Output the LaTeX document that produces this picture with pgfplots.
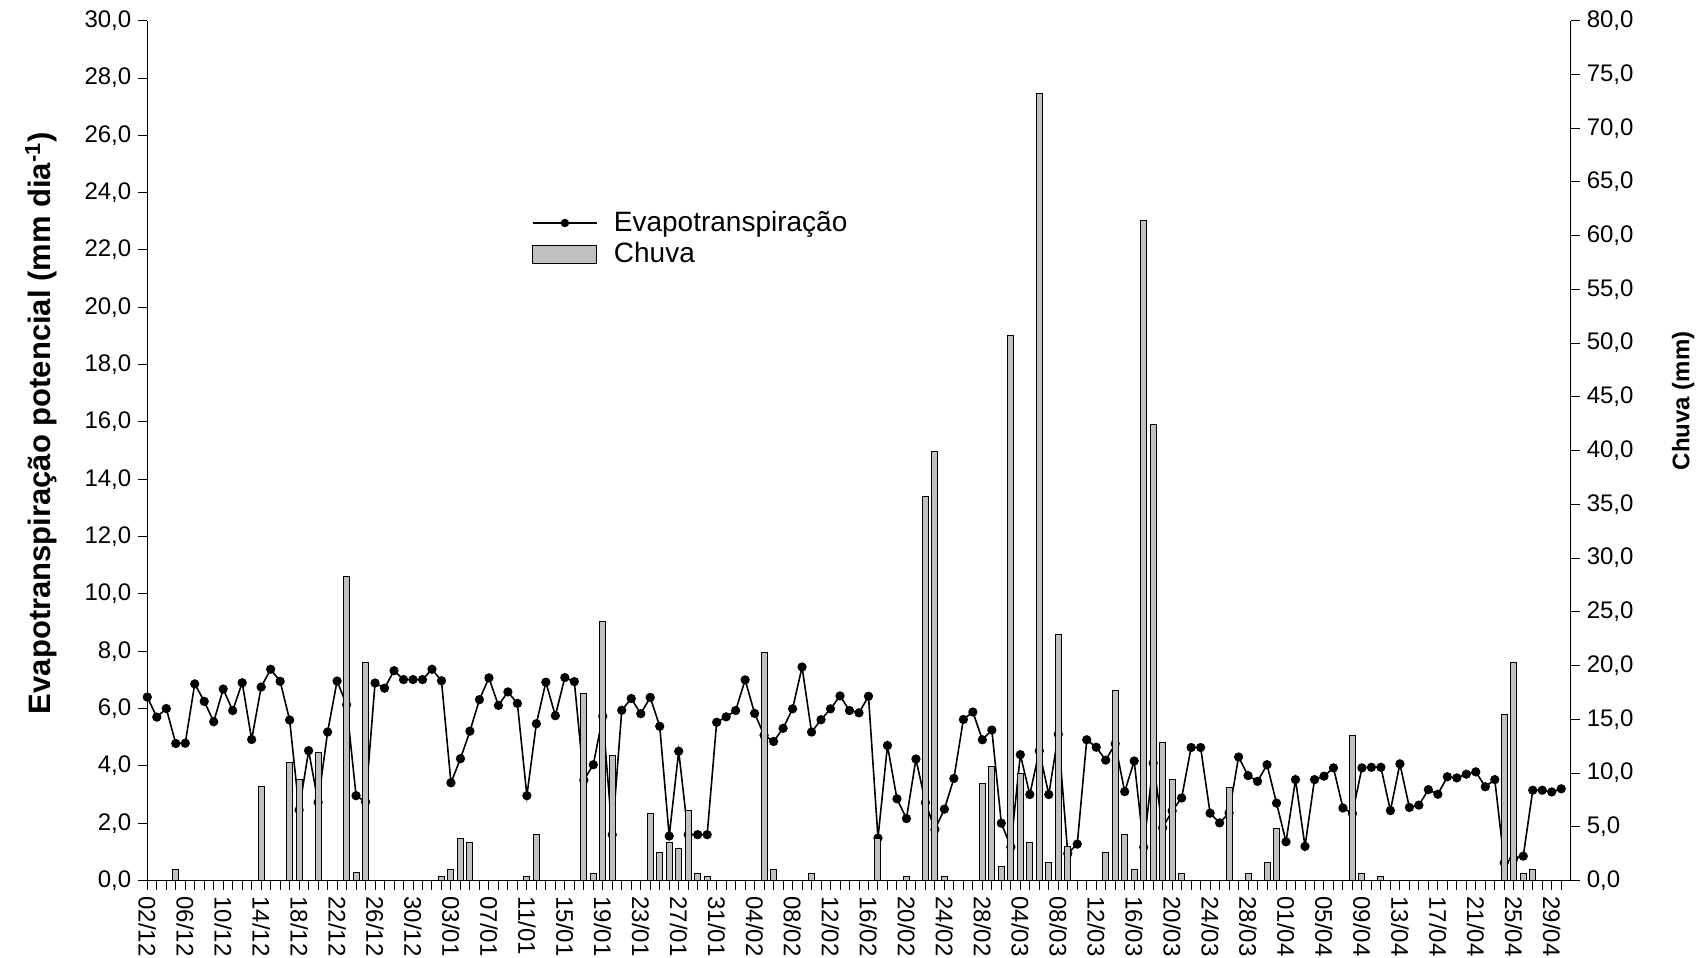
\documentclass[border=0pt]{standalone}
\usepackage{fontspec}
\setmainfont{Liberation Sans}
\usepackage{pgfplots}
\usepackage{pgfplotstable}
\pgfplotsset{compat=1.18}
\definecolor{chuvafill}{RGB}{192,192,192}

% evapotranspiração diária (mm/dia), dia 0 = 02/12
\pgfplotstableread{
d et
0 6.40
1 5.70
2 6.00
3 4.78
4 4.79
5 6.86
6 6.25
7 5.54
8 6.68
9 5.93
10 6.90
11 4.92
12 6.75
13 7.37
14 6.95
15 5.60
16 2.46
17 4.53
18 2.73
19 5.18
20 6.96
21 6.13
22 2.96
23 2.74
24 6.89
25 6.71
26 7.32
27 7.01
28 7.01
29 7.01
30 7.37
31 6.97
32 3.41
33 4.25
34 5.21
35 6.31
36 7.07
37 6.11
38 6.58
39 6.18
40 2.96
41 5.47
42 6.92
43 5.75
44 7.08
45 6.94
46 3.50
47 4.04
48 5.73
49 1.60
50 5.94
51 6.35
52 5.82
53 6.39
54 5.38
55 1.55
56 4.51
57 1.60
58 1.60
59 1.60
60 5.52
61 5.71
62 5.93
63 7.00
64 5.83
65 5.07
66 4.85
67 5.31
68 5.99
69 7.45
70 5.18
71 5.61
72 5.99
73 6.44
74 5.93
75 5.85
76 6.43
77 1.48
78 4.71
79 2.85
80 2.16
81 4.24
82 2.72
83 1.78
84 2.49
85 3.56
86 5.62
87 5.88
88 4.91
89 5.25
90 2.00
91 1.17
92 4.39
93 3.00
94 4.52
95 3.00
96 5.10
97 0.94
98 1.27
99 4.91
100 4.65
101 4.20
102 4.77
103 3.10
104 4.17
105 1.16
106 4.10
107 1.84
108 2.43
109 2.88
110 4.64
111 4.64
112 2.35
113 2.01
114 2.36
115 4.31
116 3.66
117 3.46
118 4.04
119 2.70
120 1.35
121 3.52
122 1.19
123 3.52
124 3.64
125 3.93
126 2.53
127 2.34
128 3.93
129 3.95
130 3.95
131 2.44
132 4.07
133 2.55
134 2.63
135 3.17
136 3.01
137 3.62
138 3.58
139 3.71
140 3.79
141 3.27
142 3.52
143 0.62
144 0.77
145 0.85
146 3.15
147 3.15
148 3.09
149 3.20
}\etdata

% chuva (mm), só os dias com chuva
\pgfplotstableread{
d mm
3 1.0
12 8.7
15 10.95
16 9.37
18 11.9
21 28.3
22 0.7
23 20.3
31 0.34
32 1.0
33 3.9
34 3.57
40 0.34
41 4.25
46 17.4
47 0.68
48 24.1
49 11.6
53 6.23
54 2.6
55 3.57
56 2.95
57 6.48
58 0.68
59 0.34
65 21.2
66 1.0
70 0.68
77 3.88
80 0.34
82 35.7
83 39.9
84 0.34
88 9.05
89 10.63
90 1.33
91 50.7
92 9.98
93 3.57
94 73.2
95 1.64
96 22.86
97 3.19
101 2.6
102 17.7
103 4.25
104 1.0
105 61.4
106 42.4
107 12.87
108 9.37
109 0.68
114 8.68
116 0.68
118 1.64
119 4.84
127 13.52
128 0.68
130 0.34
143 15.47
144 20.28
145 0.68
146 0.99
}\chuvadata

\pgfplotsset{
  base/.style={
    scale only axis, width=711.7pt, height=429.9pt,
    xmin=0, xmax=150,
    tick align=outside,
    major tick length=4.5pt, minor tick length=4.5pt,
    axis line style={-, line width=0.7pt},
    every tick/.style={black, line width=0.5pt},
    tick label style={font=\fontsize{12}{14}\selectfont},
    label style={font=\bfseries\fontsize{12}{14}\selectfont},
    /pgf/number format/fixed,
    /pgf/number format/fixed zerofill,
    /pgf/number format/precision=1,
    /pgf/number format/use comma,
    /pgf/number format/assume math mode=true,
  },
}

\begin{document}
\begin{tikzpicture}
\begin{axis}[base,
  axis y line*=left, axis x line*=bottom,
  ymin=0, ymax=30, ytick={0,2,...,30},
  xtick={0,4,...,148},
  xticklabels={02/12,06/12,10/12,14/12,18/12,22/12,26/12,30/12,03/01,07/01,11/01,15/01,19/01,23/01,27/01,31/01,04/02,08/02,12/02,16/02,20/02,24/02,28/02,04/03,08/03,12/03,16/03,20/03,24/03,28/03,01/04,05/04,09/04,13/04,17/04,21/04,25/04,29/04},
  minor xtick={0,...,149},
  xticklabel style={rotate=-90, anchor=west},
  ylabel={Evapotranspiração potencial (mm dia\textsuperscript{-1})},
  ylabel style={at={(axis description cs:-0.0746,0.532)}, anchor=center,
    font=\bfseries\fontsize{15.5}{18}\selectfont},
]
\addplot[black, line width=0.8pt, mark=*, mark size=1.9pt] table[x=d, y=et] {\etdata};
\end{axis}

\begin{axis}[base,
  axis y line*=right, axis x line=none,
  ymin=0, ymax=80, ytick={0,5,...,80},
  ylabel={Chuva (mm)},
  ylabel style={at={(axis description cs:1.079,0.558)}, anchor=center},
  legend cell align=left,
  legend style={draw=none, fill=none, at={(0.266,0.788)}, anchor=north west,
    font=\fontsize{14}{16}\selectfont, row sep=0pt},
]
\addlegendimage{legend image code/.code={
  \path[draw=none, fill=none] (0pt,0pt) -- (38.5pt,0pt);
  \draw[black, line width=0.6pt] (0pt,0pt) -- (32pt,0pt);
  \fill[black] (16pt,0pt) circle (1.9pt);}}
\addlegendentry{Evapotranspiração}
\addplot[ybar, bar width=3pt, fill=chuvafill, draw=black, line width=0.5pt,
  legend image code/.code={
    \path[draw=none, fill=none] (0pt,0pt) -- (38.5pt,0pt);
    \draw[fill=chuvafill, draw=black, line width=0.5pt] (0pt,-4.6pt) rectangle (32pt,4.6pt);}]
  table[x=d, y=mm] {\chuvadata};
\addlegendentry{Chuva}
\end{axis}

\pgfresetboundingbox
\path[use as bounding box] (-73.65pt,-38.75pt) rectangle (778.35pt,440.25pt);
\end{tikzpicture}
\end{document}
